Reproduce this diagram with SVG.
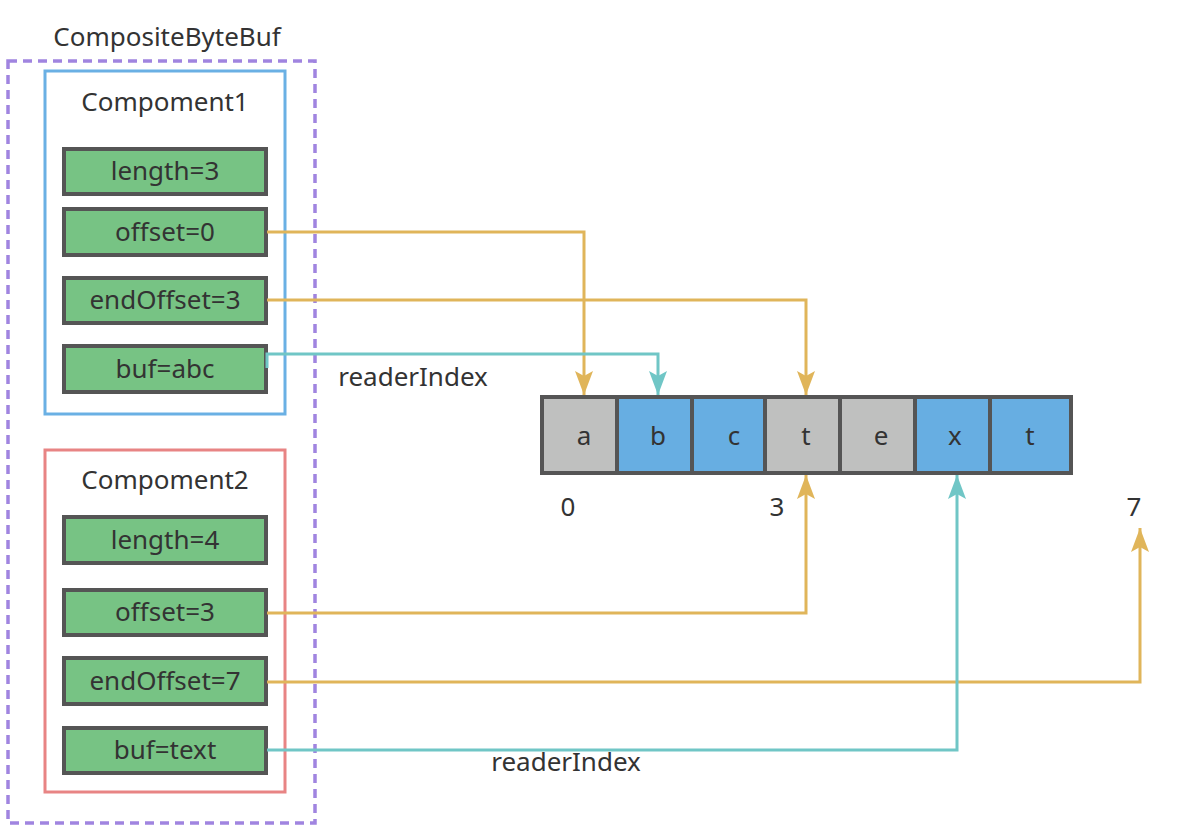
<svg xmlns="http://www.w3.org/2000/svg" width="1192" height="828" viewBox="0 0 1192 828">
<defs>
<style>
text{font-family:"Noto Sans","Open Sans",sans-serif;font-size:26px;fill:#333;text-anchor:middle}
.fld{fill:#77c384;stroke:#555;stroke-width:4}
.cell{stroke:#555;stroke-width:4}
.g{fill:#bfc0bf}.b{fill:#67aee2}
.or{fill:none;stroke:#e0b55a;stroke-width:3}
.te{fill:none;stroke:#70c6c6;stroke-width:3}
</style>
<marker id="ao" viewBox="0 0 24 18" refX="24" refY="9" markerWidth="24" markerHeight="18" markerUnits="userSpaceOnUse" orient="auto"><path d="M0,0 L24,9 L0,18 L5,9 Z" fill="#e0b55a"/></marker>
<marker id="at" viewBox="0 0 24 18" refX="24" refY="9" markerWidth="24" markerHeight="18" markerUnits="userSpaceOnUse" orient="auto"><path d="M0,0 L24,9 L0,18 L5,9 Z" fill="#70c6c6"/></marker>
</defs>
<rect width="1192" height="828" fill="#fff"/>
<g id="composite">
<rect x="8" y="61" width="307" height="762" fill="none" stroke="#a084e0" stroke-width="3.5" stroke-dasharray="9 6"/>
<text x="167" y="46">CompositeByteBuf</text>
</g>
<g id="component1">
<rect x="45" y="71" width="240" height="343" fill="none" stroke="#6ab0e4" stroke-width="3"/>
<text x="165" y="111">Compoment1</text>
</g>
<g id="c1-length"><rect class="fld" x="64" y="149" width="202" height="45"/><text x="165" y="180">length=3</text></g>
<g id="c1-offset"><rect class="fld" x="64" y="209" width="202" height="46"/><text x="165" y="241">offset=0</text></g>
<g id="c1-endOffset"><rect class="fld" x="64" y="278" width="202" height="45"/><text x="165" y="309">endOffset=3</text></g>
<g id="c1-buf"><rect class="fld" x="64" y="346" width="202" height="46"/><text x="165" y="378">buf=abc</text></g>
<g id="component2">
<rect x="45" y="450" width="240" height="342" fill="none" stroke="#e88484" stroke-width="3"/>
<text x="165" y="489">Compoment2</text>
</g>
<g id="c2-length"><rect class="fld" x="64" y="517" width="202" height="46"/><text x="165" y="549">length=4</text></g>
<g id="c2-offset"><rect class="fld" x="64" y="590" width="202" height="45"/><text x="165" y="621">offset=3</text></g>
<g id="c2-endOffset"><rect class="fld" x="64" y="658" width="202" height="46"/><text x="165" y="690">endOffset=7</text></g>
<g id="c2-buf"><rect class="fld" x="64" y="728" width="202" height="45"/><text x="165" y="759">buf=text</text></g>
<g id="cells">
<rect class="cell g" x="542" y="397" width="75" height="76"/><text x="584" y="445">a</text>
<rect class="cell b" x="617" y="397" width="75" height="76"/><text x="658" y="445">b</text>
<rect class="cell b" x="692" y="397" width="73" height="76"/><text x="734" y="445">c</text>
<rect class="cell g" x="765" y="397" width="75" height="76"/><text x="806" y="445">t</text>
<rect class="cell g" x="840" y="397" width="75" height="76"/><text x="881" y="445">e</text>
<rect class="cell b" x="915" y="397" width="75" height="76"/><text x="955" y="445">x</text>
<rect class="cell b" x="990" y="397" width="81" height="76"/><text x="1030" y="445">t</text>
</g>
<g id="labels">
<text x="568" y="516">0</text>
<text x="777" y="516">3</text>
<text x="1134" y="516">7</text>
<text x="413" y="386">readerIndex</text>
<text x="566" y="771">readerIndex</text>
</g>
<g id="connectors">
<path class="or" d="M267,232 H584 V395" marker-end="url(#ao)"/>
<path class="or" d="M267,300 H806 V395" marker-end="url(#ao)"/>
<path class="te" d="M267,368 V354 H658 V395" marker-end="url(#at)"/>
<path class="or" d="M267,613 H806 V475" marker-end="url(#ao)"/>
<path class="or" d="M267,682 H1140 V528" marker-end="url(#ao)"/>
<path class="te" d="M267,750 H957 V475" marker-end="url(#at)"/>
</g>
</svg>
